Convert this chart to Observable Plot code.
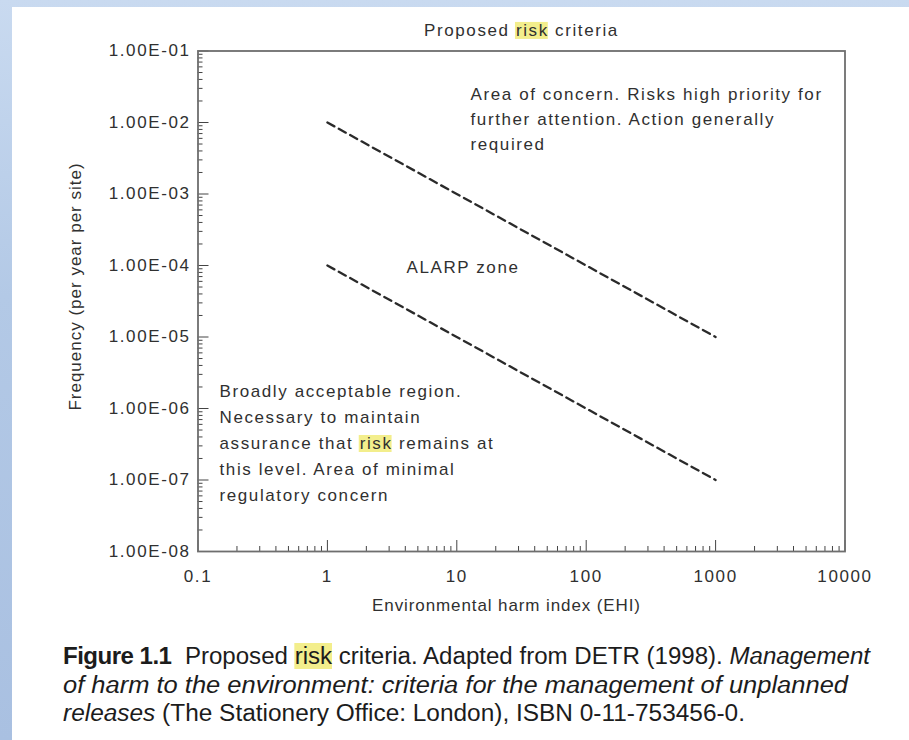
<!DOCTYPE html>
<html>
<head>
<meta charset="utf-8">
<script src="https://cdn.jsdelivr.net/npm/d3@7"></script>
<script src="https://cdn.jsdelivr.net/npm/@observablehq/plot@0.6"></script>
<style>
  html, body { margin: 0; padding: 0; }
  body {
    width: 909px; height: 740px; overflow: hidden; position: relative;
    background: linear-gradient(to bottom, #c9daf0 0%, #b3c9e6 40%, #a9c0e1 100%);
  }
  #panel { position: absolute; left: 12px; top: 7px; right: 0; bottom: 0; background: #ffffff; }
  #chart { position: absolute; left: 0; top: 0; }
  #chart svg { overflow: visible; }
  .caption {
    position: absolute; left: 63px; top: 642px;
    font-family: "Liberation Sans", Arial, sans-serif;
    font-size: 23px; line-height: 28.5px; color: #1c1c1c; white-space: nowrap;
  }
  .cl { transform-origin: 0 0; width: max-content; }
  .caption b { font-weight: bold; letter-spacing: -0.5px; }
  .hl { background: #f3ee8c; }
</style>
</head>
<body>
<div id="panel"></div>
<div id="chart"></div>
<div class="caption" id="caption">
  <div class="cl" data-w="807"><b>Figure 1.1</b>&nbsp; Proposed <span class="hl">risk</span> criteria. Adapted from DETR (1998). <i>Management</i></div>
  <div class="cl" data-w="785"><i>of harm to the environment: criteria for the management of unplanned</i></div>
  <div class="cl" data-w="682"><i>releases</i> (The Stationery Office: London), ISBN 0-11-753456-0.</div>
</div>
<script>
// ---- data ----
const xTicks = [0.1, 1, 10, 100, 1000, 10000];
const xTickLabels = ["0.1", "1", "10", "100", "1000", "10000"];
const yTicks = [1e-1, 1e-2, 1e-3, 1e-4, 1e-5, 1e-6, 1e-7, 1e-8];
const yTickLabels = ["1.00E-01", "1.00E-02", "1.00E-03", "1.00E-04", "1.00E-05", "1.00E-06", "1.00E-07", "1.00E-08"];
const minorMultipliers = [2, 3, 4, 5, 6, 7, 8, 9];

const upperEHI = [1, 1000];
const upperFreq = [1e-2, 1e-5];
const lowerEHI = [1, 1000];
const lowerFreq = [1e-4, 1e-7];

const titleText = "Proposed risk criteria";
const xLabel = "Environmental harm index (EHI)";
const yLabel = "Frequency (per year per site)";
const concernText = "Area of concern. Risks high priority for\nfurther attention. Action generally\nrequired";
const alarpText = "ALARP zone";
const acceptableText = "Broadly acceptable region.\nNecessary to maintain\nassurance that risk remains at\nthis level. Area of minimal\nregulatory concern";

// ---- derived ----
const upperLine = upperEHI.map((x, i) => ({x, y: upperFreq[i]}));
const lowerLine = lowerEHI.map((x, i) => ({x, y: lowerFreq[i]}));
const xMinor = xTicks.slice(0, -1).flatMap(d => minorMultipliers.map(m => d * m));
const yMinor = yTicks.slice(1).flatMap(d => minorMultipliers.map(m => d * m));

const W = 909, H = 630;
const mL = 197.5, mR = 64.5, mT = 50.5, mB = 79;
const plotW = W - mL - mR, plotH = H - mT - mB;
const ink = "#303030";

const plot = Plot.plot({
  width: W, height: H,
  marginLeft: mL, marginRight: mR, marginTop: mT, marginBottom: mB,
  style: {fontFamily: "'Liberation Sans', Arial, Helvetica, sans-serif", fontSize: "17px", color: ink, background: "transparent", letterSpacing: "1.6px"},
  x: {type: "log", domain: [0.1, 10000]},
  y: {type: "log", domain: [1e-8, 1e-1]},
  marks: [
    // minor and major ticks (inward)
    Plot.tickY(yMinor, {y: d => d, insetRight: plotW - 5, stroke: "#444", strokeWidth: 1}),
    Plot.tickY(yTicks, {y: d => d, insetRight: plotW - 11, stroke: "#444", strokeWidth: 1}),
    Plot.tickX(xMinor, {x: d => d, insetTop: plotH - 5, stroke: "#444", strokeWidth: 1}),
    Plot.tickX(xTicks, {x: d => d, insetTop: plotH - 11, stroke: "#444", strokeWidth: 1}),
    Plot.frame({stroke: "#6e6e6e", strokeWidth: 1.8}),
    Plot.axisY(yTicks, {tickSize: 0, tickPadding: 7.5, tickFormat: d => yTickLabels[yTicks.indexOf(d)], label: null, fill: ink}),
    Plot.axisX(xTicks, {tickSize: 0, tickPadding: 18, tickFormat: d => xTickLabels[xTicks.indexOf(d)], label: null, fill: ink}),
    // criteria lines
    Plot.line(upperLine, {x: "x", y: "y", stroke: "#2a2a2a", strokeWidth: 2.3, strokeDasharray: "8,5"}),
    Plot.line(lowerLine, {x: "x", y: "y", stroke: "#2a2a2a", strokeWidth: 2.3, strokeDasharray: "8,5"}),
    // titles and labels
    Plot.text([titleText], {text: d => d, frameAnchor: "top", dy: -20.5, lineAnchor: "middle", fill: ink}),
    Plot.text([xLabel], {text: d => d, frameAnchor: "bottom", dx: -15, dy: 54, textAnchor: "middle", lineAnchor: "middle", fill: ink}),
    Plot.text([yLabel], {text: d => d, frameAnchor: "left", dx: -122.5, dy: -14.75, rotate: -90, textAnchor: "middle", lineAnchor: "middle", fill: ink}),
    // annotations
    Plot.text([concernText], {text: d => d, frameAnchor: "top-left", dx: 272.5, dy: 31.5, textAnchor: "start", lineAnchor: "top", lineHeight: 1.47, fill: ink}),
    Plot.text([alarpText], {text: d => d, frameAnchor: "top-left", dx: 208.5, dy: 209.5, textAnchor: "start", lineAnchor: "top", fill: ink}),
    Plot.text([acceptableText], {text: d => d, frameAnchor: "top-left", dx: 21.5, dy: 327.5, textAnchor: "start", lineAnchor: "top", lineHeight: 1.53, fill: ink})
  ]
});
document.getElementById("chart").appendChild(plot);

// axis labels are set a little tighter than the rest
plot.querySelectorAll("text").forEach(t => {
  if (t.textContent === xLabel) t.style.letterSpacing = "0.9px";
  if (t.textContent === yLabel) t.style.letterSpacing = "1px";
});

// highlight the word "risk" wherever it appears in the SVG texts
function highlightWord(svg, word) {
  svg.querySelectorAll("text").forEach(t => {
    const full = t.textContent;
    const idx = full.indexOf(word);
    if (idx < 0) return;
    const start = t.getExtentOfChar(idx);
    const end = t.getExtentOfChar(idx + word.length - 1);
    const r = document.createElementNS("http://www.w3.org/2000/svg", "rect");
    r.setAttribute("x", start.x - 1);
    r.setAttribute("y", start.y + 1);
    r.setAttribute("width", end.x + end.width - start.x);
    r.setAttribute("height", start.height - 2);
    r.setAttribute("fill", "#f3ee8c");
    const tr = t.getAttribute("transform");
    if (tr) r.setAttribute("transform", tr);
    t.parentNode.insertBefore(r, t);
  });
}
highlightWord(plot, "risk");

// fit each caption line to the reference line width
document.querySelectorAll("#caption .cl").forEach(line => {
  const w = line.getBoundingClientRect().width;
  line.style.transform = `scaleX(${(+line.dataset.w) / w})`;
});
</script>
</body>
</html>
